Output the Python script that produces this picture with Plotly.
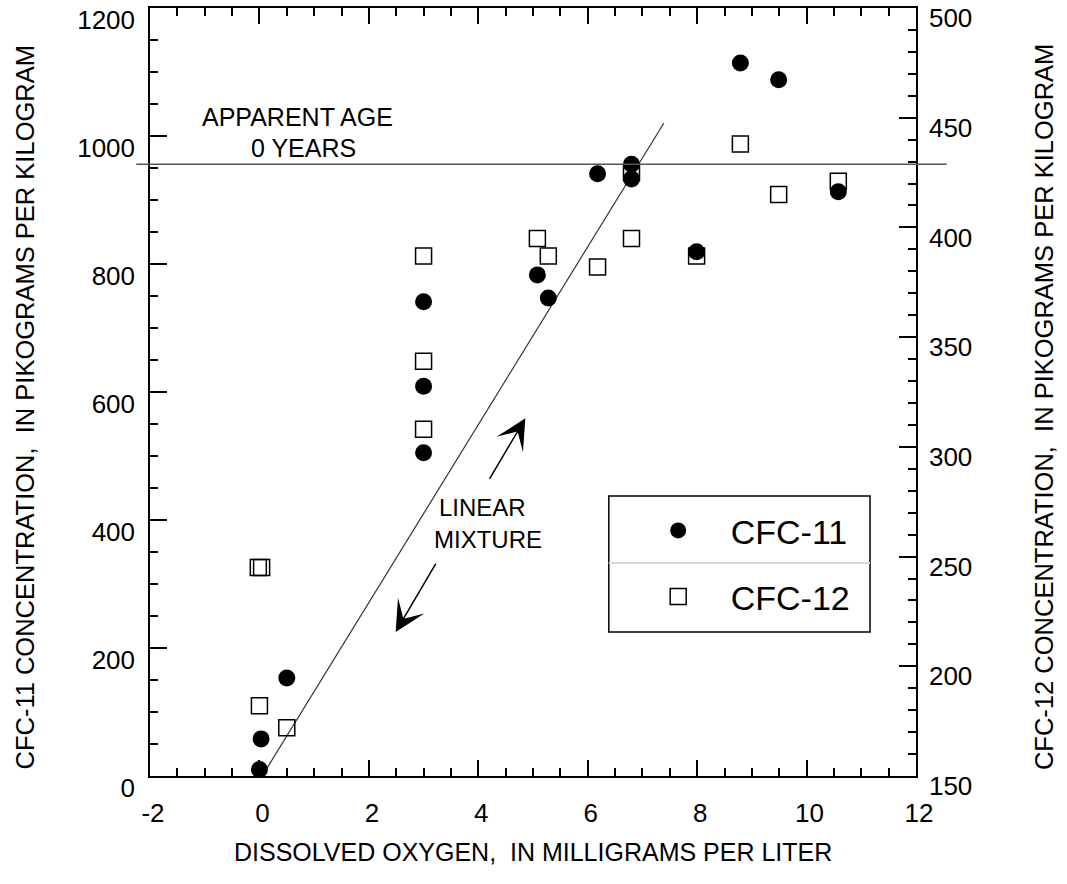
import plotly.graph_objects as go

# ---- data ----
do_cfc11 = [0.0, 0.03, 0.5, 3.0, 3.0, 3.0, 5.08, 5.28, 6.18, 6.8, 6.8, 7.99, 8.79, 9.49, 10.58]
cfc11 = [10, 58, 153, 741, 609, 505, 783, 747, 941, 956, 933, 819, 1114, 1088, 913]

do_cfc12 = [-0.02, 0.04, 0.0, 0.5, 3.0, 3.0, 3.0, 5.08, 5.28, 6.18, 6.8, 6.8, 7.99, 8.79, 9.49, 10.58]
cfc12 = [245, 245, 182, 172, 387, 339, 308, 395, 387, 382, 395, 425, 387, 438, 415, 421]

mix_x = [0.05, 7.39]
mix_y = [0, 1020]

apparent_age_level = 956

x_tickvals = [-2, 0, 2, 4, 6, 8, 10, 12]
x_ticktext = ["-2", "0", "2", "4", "6", "8", "10", "12"]

FONT = "Liberation Sans, Arial, Helvetica, sans-serif"

fig = go.Figure()

fig.add_trace(go.Scatter(
    x=mix_x, y=mix_y, mode="lines",
    line=dict(color="#333333", width=1.2),
    showlegend=False, hoverinfo="skip", cliponaxis=False,
))

fig.add_trace(go.Scatter(
    x=do_cfc12, y=cfc12, yaxis="y2", mode="markers", name="CFC-12",
    legendgroup="b", legendrank=2,
    marker=dict(symbol="square-open", size=16, color="black", line=dict(width=1.5, color="black")),
    cliponaxis=False,
))

fig.add_trace(go.Scatter(
    x=do_cfc11, y=cfc11, mode="markers", name="CFC-11",
    legendgroup="a", legendrank=1,
    marker=dict(symbol="circle", size=17, color="black"),
    cliponaxis=False,
))

axis_common = dict(
    showgrid=False, zeroline=False, showline=True, linecolor="black", linewidth=1.5,
    ticks="inside", tickcolor="black", tickwidth=1.5, ticklabeloverflow="allow",
    automargin=False,
    tickfont=dict(family=FONT, size=26, color="black"),
)

fig.update_layout(
    width=1067, height=884,
    margin=dict(l=150, r=151, t=8, b=108, autoexpand=False),
    paper_bgcolor="white", plot_bgcolor="white",
    font=dict(family=FONT, size=24, color="black"),
    xaxis=dict(
        range=[-2, 12], tickmode="array", tickvals=x_tickvals, ticktext=x_ticktext,
        ticklen=16, mirror="ticks", ticklabelstandoff=13, ticklabelshift=3,
        minor=dict(tickmode="linear", tick0=0, dtick=0.5, ticklen=8, ticks="inside",
                   tickcolor="black", tickwidth=1.5),
        **axis_common,
    ),
    yaxis=dict(
        range=[0, 1200], tickmode="linear", tick0=0, dtick=200, ticklen=17,
        ticklabelshift=12, ticklabelstandoff=8,
        minor=dict(tickmode="linear", tick0=0, dtick=50, ticklen=8, ticks="inside",
                   tickcolor="black", tickwidth=1.5),
        **axis_common,
    ),
    yaxis2=dict(
        range=[150, 500], overlaying="y", side="right", tickmode="linear", tick0=150, dtick=50,
        ticklen=17, ticklabelshift=10, ticklabelstandoff=6,
        minor=dict(tickmode="linear", tick0=150, dtick=10, ticklen=8, ticks="inside",
                   tickcolor="black", tickwidth=1.5),
        **axis_common,
    ),
    legend=dict(
        x=0.621, y=0.357, xanchor="left", yanchor="top",
        bgcolor="rgba(0,0,0,0)", borderwidth=0,
        font=dict(family=FONT, size=34, color="black"),
        traceorder="grouped", tracegroupgap=19, itemwidth=95,
    ),
)

# Apparent age horizontal line (extends slightly beyond plot frame)
fig.add_shape(type="line", xref="paper", yref="y", x0=-0.018, x1=1.040,
              y0=apparent_age_level, y1=apparent_age_level,
              line=dict(color="#555555", width=1.5), layer="above")

# Legend box and divider
fig.add_shape(type="rect", xref="paper", yref="paper", x0=0.599, x1=0.940, y0=0.1875, y1=0.3646,
              line=dict(color="black", width=1.5), fillcolor="rgba(0,0,0,0)", layer="above")
fig.add_shape(type="line", xref="paper", yref="paper", x0=0.599, x1=0.940, y0=0.2773, y1=0.2773,
              line=dict(color="#d8d8d8", width=2), layer="above")

ann = []
ann.append(dict(x=0.69, y=1030, xref="x", yref="y", text="APPARENT AGE", showarrow=False,
                font=dict(family=FONT, size=25, color="black")))
ann.append(dict(x=0.80, y=981, xref="x", yref="y", text="0 YEARS", showarrow=False,
                font=dict(family=FONT, size=25, color="black")))
ann.append(dict(x=4.08, y=419, xref="x", yref="y", text="LINEAR", showarrow=False,
                font=dict(family=FONT, size=24, color="black")))
ann.append(dict(x=4.17, y=370, xref="x", yref="y", text="MIXTURE", showarrow=False,
                font=dict(family=FONT, size=24, color="black")))
# arrows
ann.append(dict(x=4.86, y=559, ax=4.19, ay=462, xref="x", yref="y", axref="x", ayref="y",
                text="", showarrow=True, arrowhead=3, arrowsize=3.4, arrowwidth=1.5, arrowcolor="black"))
ann.append(dict(x=2.49, y=225, ax=3.24, ay=334, xref="x", yref="y", axref="x", ayref="y",
                text="", showarrow=True, arrowhead=3, arrowsize=3.4, arrowwidth=1.5, arrowcolor="black"))
# axis titles
ann.append(dict(x=0.5, y=-0.099, xref="paper", yref="paper", xanchor="center", yanchor="middle",
                text="DISSOLVED OXYGEN,  IN MILLIGRAMS PER LITER", showarrow=False,
                font=dict(family=FONT, size=25, color="black")))
ann.append(dict(x=-0.163, y=0.48, xref="paper", yref="paper", xanchor="center", yanchor="middle",
                textangle=-90, text="CFC-11 CONCENTRATION,  IN PIKOGRAMS PER KILOGRAM", showarrow=False,
                font=dict(family=FONT, size=25.5, color="black")))
ann.append(dict(x=1.168, y=0.48, xref="paper", yref="paper", xanchor="center", yanchor="middle",
                textangle=-90, text="CFC-12 CONCENTRATION,  IN PIKOGRAMS PER KILOGRAM", showarrow=False,
                font=dict(family=FONT, size=25.5, color="black")))
fig.update_layout(annotations=ann)

fig.write_html("out.html")
